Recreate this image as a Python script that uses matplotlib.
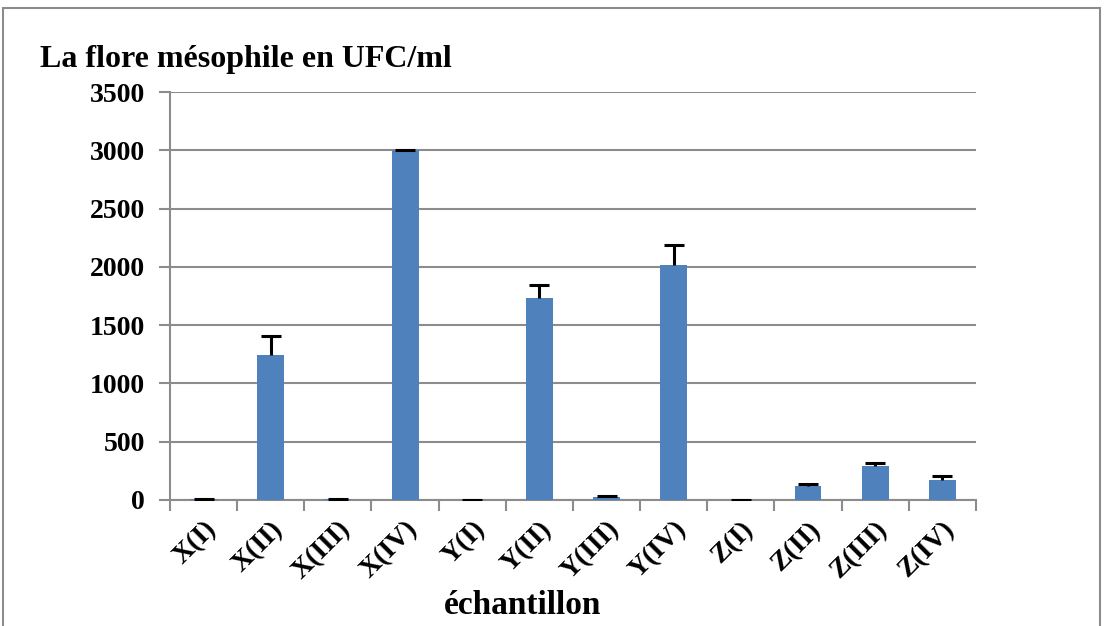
import numpy as np
import matplotlib.pyplot as plt
from matplotlib.patches import Rectangle

plt.rcParams['font.family'] = ['Liberation Serif', 'DejaVu Serif']
plt.rcParams['font.weight'] = 'bold'

# data
samples = ['X(I)', 'X(II)', 'X(III)', 'X(IV)', 'Y(I)', 'Y(II)', 'Y(III)', 'Y(IV)',
           'Z(I)', 'Z(II)', 'Z(III)', 'Z(IV)']
ufc = [5, 1245, 5, 3000, 2, 1730, 25, 2015, 3, 120, 290, 175]
err = [2, 160, 3, 3, 1, 115, 8, 170, 1, 20, 25, 30]

fig = plt.figure(figsize=(11.04, 6.26), dpi=100)
ax = fig.add_axes([0.154, 0.2013, 0.730, 0.6517])

x = np.arange(len(samples))
tops = np.array(ufc) + np.array(err)
ax.bar(x, ufc, width=0.4, color='#4F81BD', zorder=3)
# plus-only error bars, cap at the top only
ax.vlines(x, ufc, tops, color='black', linewidth=2.2, zorder=4)
ax.plot(x, tops, ls='none', marker='_', markersize=14, mew=2.2, color='black', zorder=4)

ax.set_xlim(-0.5, len(samples) - 0.5)
ax.set_ylim(0, 3500)
ax.set_yticks(range(0, 3501, 500))
ax.yaxis.grid(True, color='#8c8c8c', linewidth=1.5, zorder=0)
ax.tick_params(axis='y', labelsize=20, length=8, color='#8c8c8c', width=1.5, pad=10)

# category boundary ticks on x
ax.set_xticks(np.arange(-0.5, len(samples), 1), minor=False)
ax.set_xticklabels([])
ax.tick_params(axis='x', length=8, color='#8c8c8c', width=1.5)
ax.set_xticks(x + 0.0, minor=True)
ax.set_xticklabels(samples, minor=True, rotation=45, ha='right', va='top',
                   rotation_mode='anchor', fontsize=20)
ax.tick_params(axis='x', which='minor', length=0, pad=12)

for s in ['top', 'right']:
    ax.spines[s].set_visible(False)
for s in ['left', 'bottom']:
    ax.spines[s].set_color('#8c8c8c')
    ax.spines[s].set_linewidth(1.5)

fig.text(40 / 1104, 1 - 60 / 626, 'La flore mésophile en UFC/ml', fontsize=23,
         fontweight='bold', va='center', ha='left')
fig.text(523 / 1104, 1 - 606 / 626, 'échantillon', fontsize=24,
         fontweight='bold', va='center', ha='center')

# outer chart frame
fig.patches.append(Rectangle((3 / 1104, -0.1), 1097 / 1104, 1.1 - 8 / 626,
                             transform=fig.transFigure, fill=False,
                             edgecolor='#8c8c8c', linewidth=1.5))

fig.savefig('out.png', dpi=100)
